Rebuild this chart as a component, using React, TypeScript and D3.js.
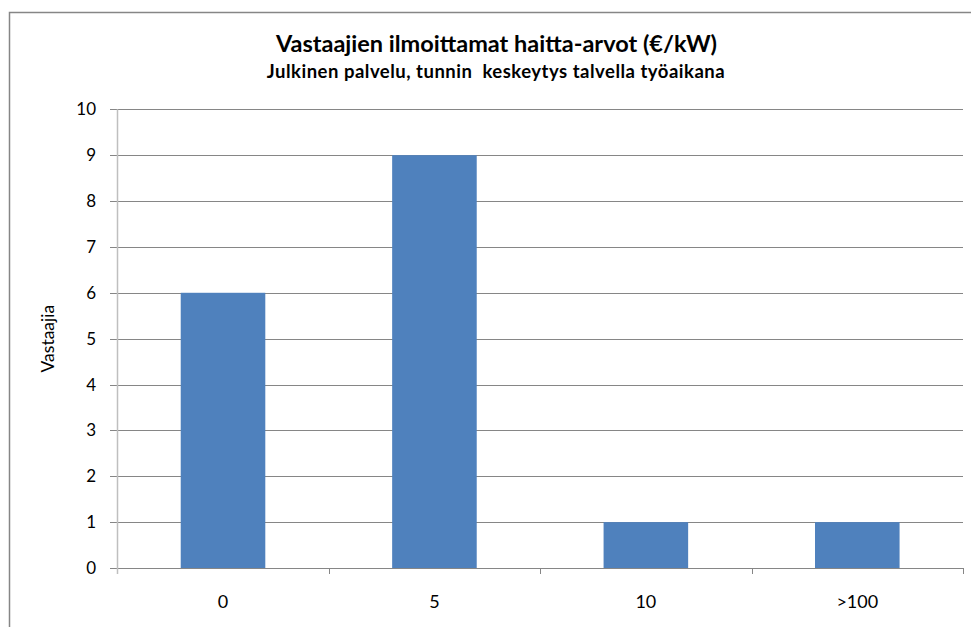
import React from "react";
import * as d3 from "d3";

const categories = ["0", "5", "10", ">100"];
const values = [6, 9, 1, 1];
const yTicks = [0, 1, 2, 3, 4, 5, 6, 7, 8, 9, 10];
const title = "Vastaajien ilmoittamat haitta-arvot (€/kW)";
const subtitle = "Julkinen palvelu, tunnin  keskeytys talvella työaikana";
const yLabel = "Vastaajia";

export default function App() {
  const W = 971, H = 627;
  const left = 117.3, right = 963, top = 109.3, bottom = 568;
  const x = d3.scaleBand().domain(categories).range([left, right]).paddingInner(0.6).paddingOuter(0.3);
  const y = d3.scaleLinear().domain([0, 10]).range([bottom, top]);
  const xb = d3.scaleBand().domain(categories).range([left, right]);
  const font = "Lato, 'Liberation Sans', Arial, sans-serif";
  return (
    <svg width={W} height={H} style={{ position: "absolute", left: 0, top: 0, background: "#fff" }}>
      <rect x={9.5} y={12.5} width={980} height={640} fill="#fff" stroke="#868686" strokeWidth={1.5} />
      <text x={496.5} y={52} textAnchor="middle" fontFamily={font} fontWeight="bold" fontSize={23.5} fill="#000">{title}</text>
      <text x={496} y={78} textAnchor="middle" fontFamily={font} fontWeight="bold" fontSize={18.5} letterSpacing={0.5} fill="#000" style={{ whiteSpace: "pre" }}>{subtitle}</text>
      {yTicks.map((t) => (
        <g key={t}>
          <line x1={110} x2={right} y1={Math.round(y(t)) + 0.5} y2={Math.round(y(t)) + 0.5} stroke="#868686" strokeWidth={1} />
          <text x={96} y={y(t) + 6} textAnchor="end" fontFamily={font} fontSize={17} fill="#000">{t}</text>
        </g>
      ))}
      {categories.map((c, i) => (
        <rect key={c} x={x(c)} y={y(values[i])} width={x.bandwidth()} height={bottom - y(values[i])} fill="#4f81bd" />
      ))}
      <line x1={117.5} x2={117.5} y1={top} y2={bottom + 6} stroke="#bfbfbf" strokeWidth={1.5} />
      {[...categories.map((c) => xb(c) as number), right].slice(1).map((p, i) => (
        <line key={i} x1={Math.round(p) + 0.5} x2={Math.round(p) + 0.5} y1={bottom} y2={bottom + 6} stroke="#868686" strokeWidth={1} />
      ))}
      {categories.map((c) => (
        <text key={c} x={(xb(c) as number) + xb.bandwidth() / 2} y={608} textAnchor="middle" fontFamily={font} fontSize={18} fill="#000">{c}</text>
      ))}
      <text transform={`translate(54, ${(top + bottom) / 2}) rotate(-90)`} textAnchor="middle" fontFamily={font} fontSize={17.5} fill="#000">{yLabel}</text>
    </svg>
  );
}
